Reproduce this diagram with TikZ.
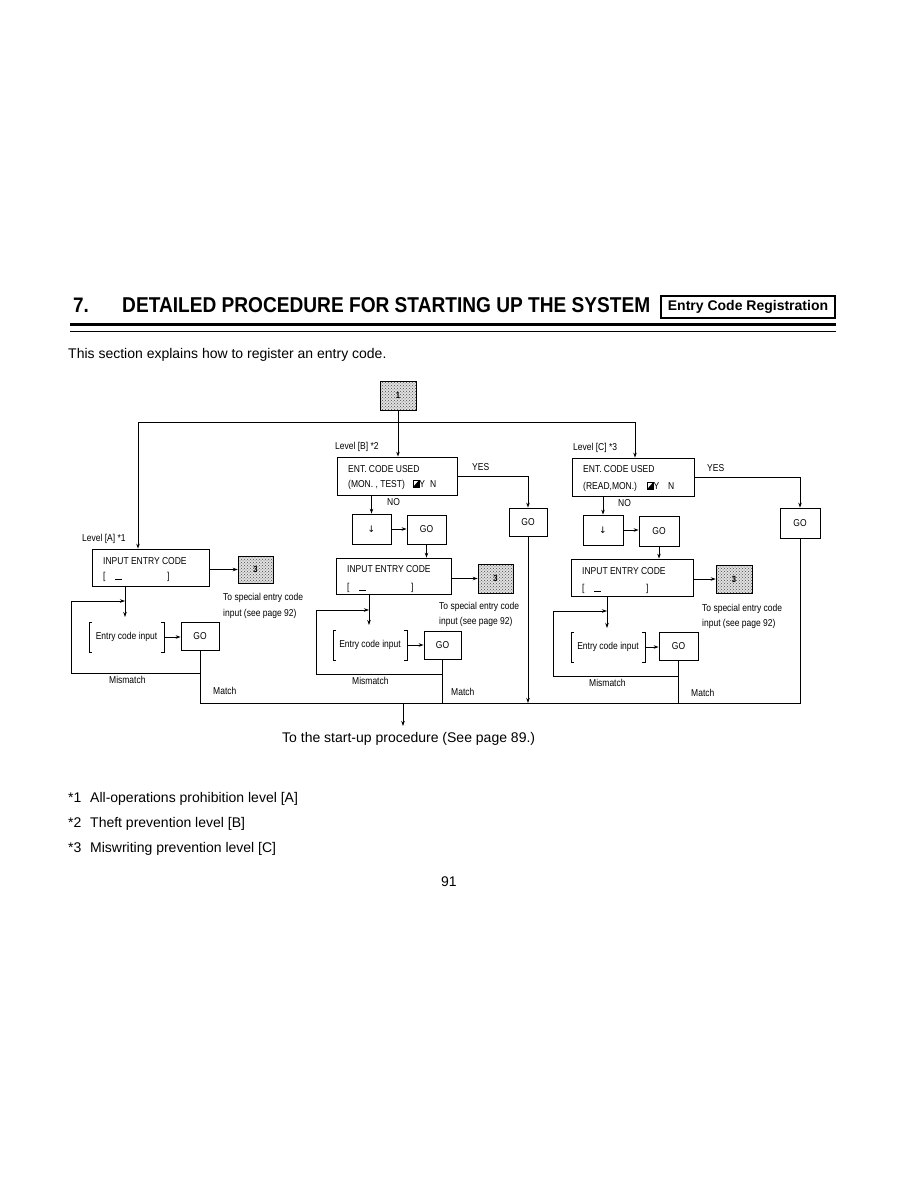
\documentclass[tikz,border=0pt]{standalone}
\usepackage{fontspec}
\usepackage{graphicx}
\setmainfont{Liberation Sans}
\newfontfamily\dgfont[FakeStretch=0.85]{Liberation Sans}
\newfontfamily\djfont{DejaVu Sans}
\usetikzlibrary{arrows.meta,patterns}
\newcommand\cursorsym{\tikz[baseline=0pt,x=1pt,y=1pt]{\draw[line width=0.5pt] (0,0) rectangle (6,7); \fill (0,0) -- (6,7) -- (6,0) -- cycle;}}
\newcommand\entryline{[\hspace{9.5pt}\rule[-0.5pt]{7pt}{0.7pt}\hspace{45pt}]}
\begin{document}
\begin{tikzpicture}[x=1pt,y=-1pt,
  bx/.style={draw,line width=0.8pt,inner sep=0pt,font=\dgfont\fontsize{10}{12}\selectfont},
  dotbox/.style={draw,line width=0.6pt,inner sep=0pt,preaction={fill=black!12},pattern=crosshatch dots,pattern color=black!70,font=\dgfont\bfseries\fontsize{9}{10}\selectfont},
  brk/.style={inner sep=0pt,font=\dgfont\fontsize{10}{12}\selectfont},
  lbl/.style={anchor=base west,inner sep=0pt,font=\dgfont\fontsize{10}{12}\selectfont},
  body/.style={anchor=base west,inner sep=0pt,font=\fontsize{14}{17}\selectfont},
  ln/.style={line width=0.8pt},
  arr/.style={line width=0.8pt,-{Stealth[length=5pt,width=3.5pt]}},
  bline/.style={line width=0.6pt}]
\fill[white] (0,0) rectangle (918,1188);
\useasboundingbox (0,0) rectangle (918,1188);

% ---------- header ----------
\node[anchor=base west,inner sep=0pt] (num) at (73,312) {\fontsize{21}{21}\selectfont\bfseries\scalebox{0.9}[1]{7.}};
\node[anchor=base west,inner sep=0pt] (title) at (122,312) {\resizebox{528pt}{15pt}{\bfseries DETAILED PROCEDURE FOR STARTING UP THE SYSTEM}};
\node[draw,line width=1.5pt,minimum width=174pt,minimum height=22pt,inner sep=0pt] (tag) at (748,307) {\fontsize{14}{16}\selectfont\bfseries Entry Code Registration};
\draw[line width=2.5pt] (70,324.5) -- (836,324.5);
\draw[line width=1pt] (70,331) -- (836,331);
\node[body] (intro) at (68,358) {This section explains how to register an entry code.};

% ---------- top ----------
\node[dotbox,minimum width=36pt,minimum height=29pt] (one) at (398,395.5) {1};
\coordinate (tl) at (138,422);
\coordinate (tr) at (635,422);

% ---------- level A ----------
\node[lbl] (LA) at (82,541) {Level [A] *1};
\node[bx,minimum width=117pt,minimum height=37pt] (Ain) at (150.5,567.5) {};
\node[lbl] (Ain1) at (103,564.5) {INPUT ENTRY CODE};
\node[lbl] (Ain2) at (103,579) {\entryline};
\node[dotbox,minimum width=35pt,minimum height=27pt] (A3) at (255.5,569.5) {3};
\node[lbl] (As1) at (223,600.5) {To special entry code};
\node[lbl] (As2) at (223,616.5) {input (see page 92)};
\node[brk,minimum width=75pt,minimum height=30pt] (Abk) at (126.5,637) {Entry code input};
\node[bx,minimum width=38pt,minimum height=28pt] (Ago) at (200,636) {GO};
\node[lbl] (Amis) at (109,683.5) {Mismatch};
\node[lbl] (Amat) at (213,694.5) {Match};

% ---------- level B ----------
\node[lbl] (LB) at (335,449.5) {Level [B] *2};
\node[bx,minimum width=120pt,minimum height=38pt] (Bent) at (397,476) {};
\node[lbl] (Be1) at (348,472) {ENT. CODE USED};
\node[lbl] (Be2) at (348,487) {(MON. , TEST)\hspace{8pt}\cursorsym Y\hspace{5pt}N};
\node[lbl] (Byes) at (472,470.5) {YES};
\node[lbl] (Bno) at (387,505.5) {NO};
\node[bx,minimum width=38pt,minimum height=28pt] (ByG) at (528,522) {GO};
\node[bx,minimum width=39pt,minimum height=30pt] (Bdn) at (371.5,529) {\djfont\fontsize{9}{10}\selectfont ↓};
\node[bx,minimum width=39pt,minimum height=29pt] (Bgo1) at (426.5,529.5) {GO};
\node[bx,minimum width=115pt,minimum height=36pt] (Bin) at (393.5,576) {};
\node[lbl] (Bin1) at (347,572.5) {INPUT ENTRY CODE};
\node[lbl] (Bin2) at (347,590) {\entryline};
\node[dotbox,minimum width=35pt,minimum height=29pt] (B3) at (495.5,578.5) {3};
\node[lbl] (Bs1) at (439,609.5) {To special entry code};
\node[lbl] (Bs2) at (439,624.5) {input (see page 92)};
\node[brk,minimum width=74pt,minimum height=30pt] (Bbk) at (370,645) {Entry code input};
\node[bx,minimum width=37pt,minimum height=28pt] (Bgo2) at (442.5,645) {GO};
\node[lbl] (Bmis) at (352,684.5) {Mismatch};
\node[lbl] (Bmat) at (451,695.5) {Match};

% ---------- level C ----------
\node[lbl] (LC) at (573,450.5) {Level [C] *3};
\node[bx,minimum width=122pt,minimum height=38pt] (Cent) at (633,477) {};
\node[lbl] (Ce1) at (583,472.5) {ENT. CODE USED};
\node[lbl] (Ce2) at (583,489) {(READ,MON.)\hspace{10pt}\cursorsym Y\hspace{9pt}N};
\node[lbl] (Cyes) at (707,471.5) {YES};
\node[lbl] (Cno) at (618,506.5) {NO};
\node[bx,minimum width=40pt,minimum height=30pt] (CyG) at (800,523) {GO};
\node[bx,minimum width=40pt,minimum height=30pt] (Cdn) at (603,530) {\djfont\fontsize{9}{10}\selectfont ↓};
\node[bx,minimum width=40pt,minimum height=30pt] (Cgo1) at (659,531) {GO};
\node[bx,minimum width=122pt,minimum height=37pt] (Cin) at (632,577.5) {};
\node[lbl] (Cin1) at (582,574.5) {INPUT ENTRY CODE};
\node[lbl] (Cin2) at (582,591) {\entryline};
\node[dotbox,minimum width=36pt,minimum height=28pt] (C3) at (734,579) {3};
\node[lbl] (Cs1) at (702,611.5) {To special entry code};
\node[lbl] (Cs2) at (702,626.5) {input (see page 92)};
\node[brk,minimum width=74pt,minimum height=30pt] (Cbk) at (608,647) {Entry code input};
\node[bx,minimum width=39pt,minimum height=28pt] (Cgo2) at (678.5,646) {GO};
\node[lbl] (Cmis) at (589,686.5) {Mismatch};
\node[lbl] (Cmat) at (691,696.5) {Match};

% ---------- brackets ----------
\foreach \b in {Abk,Bbk,Cbk}{
  \draw[bline] ([xshift=3pt]\b.north west) -- (\b.north west) -- (\b.south west) -- ([xshift=3pt]\b.south west);
  \draw[bline] ([xshift=-3pt]\b.north east) -- (\b.north east) -- (\b.south east) -- ([xshift=-3pt]\b.south east);
}

% ---------- junction coordinates ----------
\coordinate (M) at (403,703);
\coordinate (out) at (403,726);
\coordinate (Aj) at (125,601);
\coordinate (Aend) at (125,617);
\coordinate (Aloop) at (71,673);
\coordinate (Bj) at (369,610);
\coordinate (Bend) at (369,625);
\coordinate (Bloop) at (316,674);
\coordinate (Cj) at (607,611);
\coordinate (Cend) at (607,628);
\coordinate (Cloop) at (553,676);

% ---------- connectors: top ----------
\draw[arr] (one.south) -- (one.south |- Bent.north);
\draw[ln] (tl) -- (tr);
\draw[arr] (tl) -- (tl |- Ain.north);
\draw[arr] (tr) -- (tr |- Cent.north);

% ---------- connectors: A ----------
\draw[arr] (A3.west -| Ain.east) -- (A3.west);
\draw[arr] (Aj |- Ain.south) -- (Aend);
\draw[ln] (Ago.south) -- (Ago.south |- Aloop) -- (Aloop) -- (Aloop |- Aj);
\draw[arr] (Aloop |- Aj) -- (Aj);
\draw[arr] (Abk.east) -- (Abk.east -| Ago.west);

% ---------- connectors: B ----------
\draw[arr] (Bent.east) -- (Bent.east -| ByG.north) -- (ByG.north);
\draw[arr] (Bdn.north |- Bent.south) -- (Bdn.north);
\draw[arr] (Bdn.east) -- (Bdn.east -| Bgo1.west);
\draw[arr] (Bgo1.south) -- (Bgo1.south |- Bin.north);
\draw[arr] (B3.west -| Bin.east) -- (B3.west);
\draw[arr] (Bj |- Bin.south) -- (Bend);
\draw[ln] (Bgo2.south) -- (Bgo2.south |- Bloop) -- (Bloop) -- (Bloop |- Bj);
\draw[arr] (Bloop |- Bj) -- (Bj);
\draw[arr] (Bbk.east) -- (Bbk.east -| Bgo2.west);
\draw[arr] (ByG.south) -- (ByG.south |- M);

% ---------- connectors: C ----------
\draw[arr] (Cent.east) -- (Cent.east -| CyG.north) -- (CyG.north);
\draw[arr] (Cdn.north |- Cent.south) -- (Cdn.north);
\draw[arr] (Cdn.east) -- (Cdn.east -| Cgo1.west);
\draw[arr] (Cgo1.south) -- (Cgo1.south |- Cin.north);
\draw[arr] (C3.west -| Cin.east) -- (C3.west);
\draw[arr] (Cj |- Cin.south) -- (Cend);
\draw[ln] (Cgo2.south) -- (Cgo2.south |- Cloop) -- (Cloop) -- (Cloop |- Cj);
\draw[arr] (Cloop |- Cj) -- (Cj);
\draw[arr] (Cbk.east) -- (Cbk.east -| Cgo2.west);

% ---------- main collector line ----------
\draw[ln] (Ago.south |- Aloop) -- (Ago.south |- M) -- (CyG.south |- M) -- (CyG.south);
\draw[ln] (Bgo2.south |- Bloop) -- (Bgo2.south |- M);
\draw[ln] (Cgo2.south |- Cloop) -- (Cgo2.south |- M);
\draw[arr] (M) -- (out);
\node[body] (startup) at (282,742.5) {To the start-up procedure (See page 89.)};

% ---------- footnotes ----------
\node[body] (f1n) at (68,802) {*1};
\node[body] (f1) at (90,802) {All-operations prohibition level [A]};
\node[body] (f2n) at (68,827) {*2};
\node[body] (f2) at (90,827) {Theft prevention level [B]};
\node[body] (f3n) at (68,852) {*3};
\node[body] (f3) at (90,852) {Miswriting prevention level [C]};
\node[body] (page) at (441,886) {91};
\end{tikzpicture}
\end{document}
